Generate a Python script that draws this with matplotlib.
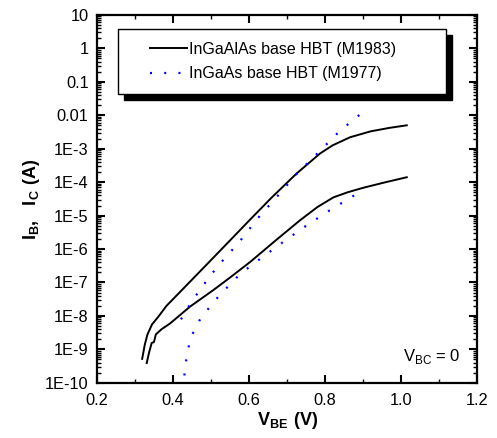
import matplotlib
matplotlib.use("Agg")
import matplotlib.pyplot as plt
from matplotlib.patches import Rectangle
from matplotlib.lines import Line2D
from matplotlib.ticker import FixedLocator, LogLocator, NullFormatter, MultipleLocator

plt.rcParams["font.family"] = ["Liberation Sans", "DejaVu Sans"]
plt.rcParams["mathtext.fontset"] = "custom"
plt.rcParams["mathtext.rm"] = "Liberation Sans"
plt.rcParams["mathtext.bf"] = "Liberation Sans:bold"

# InGaAlAs base HBT (M1983): collector and base currents
vbe_c_m1983 = [0.319, 0.326, 0.333, 0.345, 0.361, 0.383, 0.436, 0.524, 0.603, 0.66,
               0.725, 0.787, 0.82, 0.866, 0.92, 0.97, 1.015]
ic_m1983 = [5.2e-10, 1.4e-9, 2.8e-9, 5.6e-9, 9.3e-9, 2.0e-8, 8.3e-8, 8.9e-7, 7.6e-6, 3.5e-5,
            1.8e-4, 7.2e-4, 1.26e-3, 2.2e-3, 3.3e-3, 4.2e-3, 5.0e-3]
vbe_b_m1983 = [0.331, 0.337, 0.344, 0.350, 0.355, 0.370, 0.392, 0.445, 0.506, 0.550,
               0.603, 0.670, 0.734, 0.780, 0.822, 0.860, 0.901, 0.960, 1.015]
ib_m1983 = [3.9e-10, 7.9e-10, 1.55e-9, 1.65e-9, 2.8e-9, 4.0e-9, 5.9e-9, 1.9e-8, 5.9e-8, 1.4e-7,
            4.1e-7, 1.8e-6, 7.2e-6, 1.8e-5, 3.5e-5, 5.0e-5, 6.8e-5, 1.0e-4, 1.4e-4]

# InGaAs base HBT (M1977)
vbe_c_m1977 = [0.421, 0.440, 0.458, 0.480, 0.502, 0.525, 0.550, 0.575, 0.600, 0.620,
               0.673, 0.725, 0.782, 0.839, 0.898]
ic_m1977 = [7.9e-9, 1.8e-8, 3.7e-8, 8.3e-8, 1.8e-7, 3.8e-7, 7.9e-7, 1.66e-6, 3.8e-6, 7.6e-6,
            3.6e-5, 1.74e-4, 7.6e-4, 3.4e-3, 1.2e-2]
vbe_b_m1977 = [0.430, 0.434, 0.439, 0.445, 0.458, 0.474, 0.497, 0.522, 0.550, 0.578,
               0.638, 0.695, 0.756, 0.813, 0.870, 0.901]
ib_m1977 = [1.66e-10, 4.2e-10, 8.7e-10, 1.95e-9, 4.2e-9, 8.9e-9, 1.86e-8, 4.1e-8, 8.7e-8, 1.86e-7,
            6.0e-7, 1.8e-6, 5.5e-6, 1.45e-5, 3.6e-5, 6.0e-5]

x_ticks = [0.2, 0.4, 0.6, 0.8, 1.0, 1.2]
x_tick_labels = ["0.2", "0.4", "0.6", "0.8", "1.0", "1.2"]
y_ticks = [1e1, 1e0, 1e-1, 1e-2, 1e-3, 1e-4, 1e-5, 1e-6, 1e-7, 1e-8, 1e-9, 1e-10]
y_tick_labels = ["10", "1", "0.1", "0.01", "1E-3", "1E-4", "1E-5", "1E-6",
                 "1E-7", "1E-8", "1E-9", "1E-10"]
legend_labels = ["InGaAlAs base HBT (M1983)", "InGaAs base HBT (M1977)"]

fig = plt.figure(figsize=(4.97, 4.38), dpi=100)
ax = fig.add_axes([0.195, 0.126, 0.765, 0.840])

dotted = (0, (0.9, 5.5))
ax.plot(vbe_c_m1983, ic_m1983, color="black", linewidth=1.4)
ax.plot(vbe_b_m1983, ib_m1983, color="black", linewidth=1.4)
ax.plot(vbe_c_m1977, ic_m1977, color="blue", linewidth=1.6, linestyle=dotted)
ax.plot(vbe_b_m1977, ib_m1977, color="blue", linewidth=1.6, linestyle=dotted)

ax.set_yscale("log")
ax.set_xlim(0.2, 1.2)
ax.set_ylim(1e-10, 10)
ax.set_xticks(x_ticks)
ax.set_xticklabels(x_tick_labels, fontsize=11.8)
ax.xaxis.set_minor_locator(MultipleLocator(0.1))
ax.yaxis.set_major_locator(FixedLocator(y_ticks))
ax.set_yticklabels(y_tick_labels, fontsize=11.8)
ax.yaxis.set_minor_locator(LogLocator(base=10, subs=range(2, 10), numticks=30))
ax.yaxis.set_minor_formatter(NullFormatter())

ax.tick_params(which="major", direction="in", length=6, width=1.5,
               top=True, right=True)
ax.tick_params(axis="x", which="major", pad=7)
ax.tick_params(axis="y", which="major", pad=6)
ax.tick_params(which="minor", direction="in", length=3, width=1.0,
               top=True, right=True)
for sp in ax.spines.values():
    sp.set_linewidth(1.6)

ax.set_xlabel(r"$\mathbf{V_{BE}\ (V)}$", fontsize=13, labelpad=2)
ax.set_ylabel(r"$\mathbf{I_B,\ \ I_C\ (A)}$", fontsize=13, labelpad=2)

# legend box with black drop shadow
ax.add_patch(Rectangle((0.070, 0.769), 0.863, 0.177, transform=ax.transAxes,
                       facecolor="black", edgecolor="black", zorder=4))
ax.add_patch(Rectangle((0.055, 0.785), 0.863, 0.177, transform=ax.transAxes,
                       facecolor="white", edgecolor="black", linewidth=1.0, zorder=5))
handles = [Line2D([], [], color="black", linewidth=1.4),
           Line2D([], [], color="blue", linewidth=1.6, linestyle=dotted)]
leg = ax.legend(handles, legend_labels, loc="center left", bbox_to_anchor=(0.14, 0.873),
                frameon=False, fontsize=11.5, handlelength=2.3, handletextpad=0.15,
                labelspacing=0.6, borderpad=0, borderaxespad=0)
leg.set_zorder(6)

ax.text(0.955, 0.045, r"V$_{\mathrm{BC}}$ = 0", transform=ax.transAxes,
        ha="right", va="bottom", fontsize=12)

fig.savefig("out.png", dpi=100)
